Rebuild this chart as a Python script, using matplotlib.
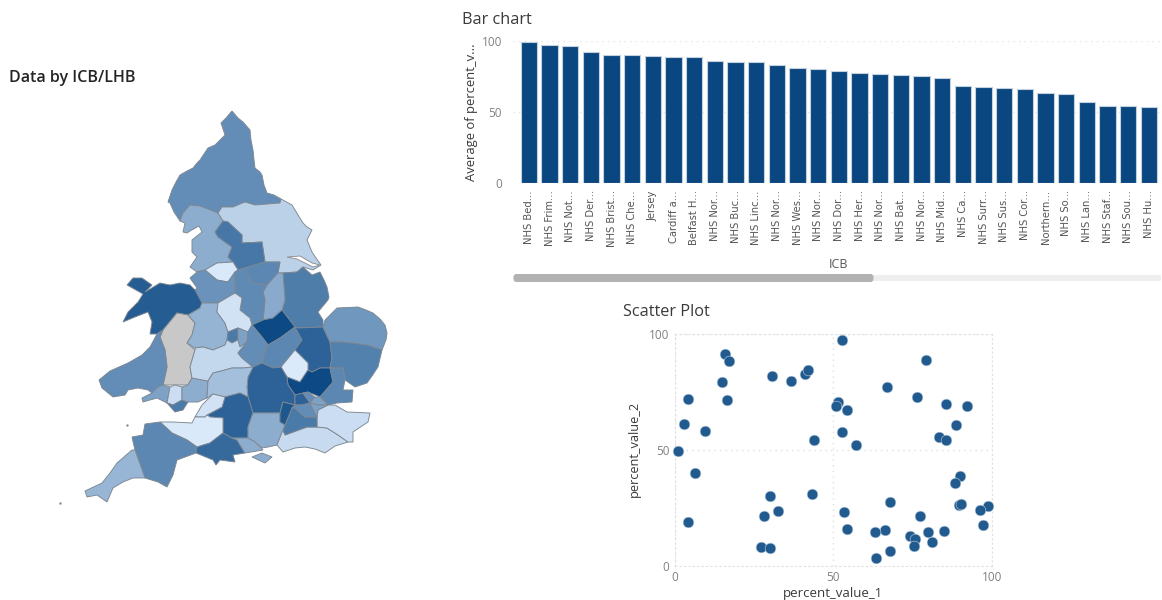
import matplotlib
matplotlib.use("Agg")
import matplotlib.pyplot as plt
from matplotlib.colors import LinearSegmentedColormap
from matplotlib.patches import Polygon, FancyBboxPatch

W = 1162
H = 600

# bar chart
icb_labels = ["NHS Bed...", "NHS Frim...", "NHS Not...", "NHS Der...", "NHS Brist...", "NHS Che...",
              "Jersey", "Cardiff a...", "Belfast H...", "NHS Nor...", "NHS Buc...", "NHS Linc...",
              "NHS Nor...", "NHS Wes...", "NHS Nor...", "NHS Dor...", "NHS Her...", "NHS Nor...",
              "NHS Bat...", "NHS Nor...", "NHS Mid...", "NHS Ca...", "NHS Surr...", "NHS Sus...",
              "NHS Cor...", "Northern...", "NHS So...", "NHS Lan...", "NHS Staf...", "NHS Sou...",
              "NHS Hu..."]
icb_values = [99.5, 97.7, 96.7, 92.5, 90.6, 90.1, 89.9, 89.2, 88.7, 85.9, 85.7, 85.4, 83.6, 81.5,
              80.3, 79.4, 77.5, 76.8, 76.1, 75.4, 74.4, 68.3, 68.1, 66.9, 66.2, 63.6, 63.1, 57.5,
              54.7, 54.7, 53.5]

# scatter
value_1 = [15.9, 17.2, 14.9, 16.3, 4.1, 2.9, 9.4, 1.1, 6.2, 4.2, 30.7, 36.6, 40.9, 41.9, 44.0,
           30.1, 32.4, 28.0, 27.1, 29.9, 43.2, 52.6, 79.2, 66.9, 76.3, 85.5, 92.3, 51.5, 50.7,
           54.3, 88.8, 52.6, 83.3, 85.7, 57.3, 89.9, 88.5, 68.0, 89.7, 90.3, 98.9, 96.4, 53.4,
           77.3, 97.2, 54.3, 66.2, 63.2, 80.0, 85.0, 74.2, 75.9, 81.3, 75.4, 67.9, 63.5]
value_2 = [91.4, 88.2, 79.4, 71.4, 71.9, 61.0, 58.1, 49.4, 39.9, 19.0, 81.7, 79.6, 82.9, 84.3, 54.2,
           30.2, 23.6, 21.4, 8.1, 7.5, 30.9, 97.3, 88.6, 77.0, 72.9, 69.7, 68.8, 70.8, 68.8,
           67.2, 60.9, 57.6, 55.4, 54.3, 52.2, 38.7, 35.7, 27.6, 26.1, 26.6, 25.9, 23.9, 23.3,
           21.4, 17.7, 15.8, 15.3, 14.5, 14.7, 14.8, 12.8, 11.4, 10.2, 8.4, 6.3, 3.3]

# map areas: shade value (None = no data) and traced outline
area_values = {
    "north_east": 58, "lancashire": 38, "yorkshire": 16, "west_yorks": 72, "manchester": 1,
    "south_yorks": 62, "lincolnshire": 68, "notts": 40, "derby": 60, "cheshire": 55,
    "north_wales": 88, "powys": None, "hywel_dda": 58, "swansea": 45, "cardiff_light": 8,
    "cardiff_dark": 70, "gwent": 38, "shropshire": 34, "staffs": 5, "black_country": 70,
    "birmingham": 45, "worcester": 12, "leicester": 100, "northants": 62, "coventry": 58,
    "cambs": 85, "norfolk": 52, "suffolk": 66, "bedford": 0, "herts": 100, "essex": 62,
    "oxford": 85, "glos": 27, "wilts": 85, "bristol": 5, "somerset": 1, "devon": 62,
    "cornwall": 33, "dorset": 80, "hampshire": 38, "hants_sw": 38, "wight": 38, "sussex": 10,
    "kent": 8, "surrey": 70, "frimley": 92, "london_nw": 85, "london_n": 58, "london_ne": 45,
    "london_sw": 58, "london_se": 45,
}
area_outlines = {
    "north_east": [(168, 202), (170, 196), (172, 190), (176, 182), (180, 175), (187, 171), (193, 168), (197, 163), (200, 160), (208, 148), (215, 145), (220, 140), (225, 135), (221, 123), (226, 118), (232, 111), (238, 118), (243, 122), (250, 130), (251, 140), (253, 150), (254, 160), (255, 168), (260, 172), (262, 175), (264, 185), (267, 193), (274, 195), (281, 199), (280, 203), (255, 205), (245, 202), (233, 207), (222, 207), (218, 213), (200, 206), (190, 205), (183, 213), (180, 221), (174, 212), (170, 203)],
    "lancashire": [(180, 221), (183, 213), (190, 205), (200, 206), (218, 213), (223, 221), (215, 232), (218, 237), (232, 247), (228, 257), (233, 262), (217, 263), (205, 270), (197, 272), (190, 267), (197, 257), (192, 252), (192, 240), (202, 232), (199, 226), (190, 231), (187, 233), (183, 232), (185, 223)],
    "yorkshire": [(218, 213), (222, 207), (233, 207), (245, 202), (255, 205), (280, 203), (281, 199), (292, 205), (298, 215), (303, 223), (307, 227), (312, 230), (307, 240), (312, 252), (316, 258), (321, 265), (313, 270), (303, 267), (297, 272), (283, 273), (278, 273), (280, 262), (265, 262), (262, 242), (242, 243), (242, 235), (228, 222), (223, 221)],
    "west_yorks": [(223, 221), (228, 222), (242, 235), (242, 243), (262, 242), (265, 262), (245, 268), (238, 270), (233, 262), (228, 257), (232, 247), (218, 237), (215, 232)],
    "manchester": [(205, 270), (217, 263), (233, 262), (238, 270), (235, 272), (228, 282), (217, 280)],
    "south_yorks": [(245, 268), (265, 262), (280, 262), (278, 273), (267, 285), (252, 283)],
    "lincolnshire": [(283, 273), (297, 272), (303, 267), (312, 275), (320, 272), (324, 280), (327, 287), (329, 297), (328, 300), (318, 312), (323, 320), (323, 327), (298, 328), (295, 327), (282, 310), (285, 300)],
    "notts": [(278, 273), (283, 273), (285, 300), (282, 310), (273, 318), (263, 320), (265, 300), (263, 292), (267, 285)],
    "derby": [(235, 272), (238, 270), (245, 268), (252, 283), (267, 285), (263, 292), (265, 300), (263, 320), (252, 325), (250, 318), (240, 310), (242, 298), (235, 293), (235, 287)],
    "cheshire": [(197, 272), (205, 270), (217, 280), (228, 282), (235, 272), (235, 287), (235, 293), (218, 303), (202, 303), (195, 290), (197, 288), (190, 278)],
    "north_wales": [(127, 285), (133, 278), (142, 278), (152, 285), (145, 292), (160, 283), (170, 285), (180, 283), (190, 285), (195, 290), (202, 303), (200, 308), (188, 315), (177, 313), (163, 330), (157, 334), (150, 334), (152, 322), (148, 312), (135, 317), (123, 322), (128, 312), (138, 302), (143, 294)],
    "powys": [(163, 330), (177, 313), (188, 315), (195, 323), (192, 335), (187, 343), (195, 350), (190, 367), (192, 378), (188, 385), (163, 385), (167, 367), (165, 350), (160, 337)],
    "hywel_dda": [(157, 334), (163, 330), (160, 337), (165, 350), (167, 367), (163, 385), (158, 387), (152, 393), (148, 390), (138, 388), (128, 390), (125, 395), (113, 397), (102, 388), (99, 380), (110, 371), (128, 363), (142, 355), (150, 347)],
    "swansea": [(142, 398), (152, 393), (158, 387), (163, 385), (170, 387), (167, 403), (157, 398), (143, 402)],
    "cardiff_light": [(170, 387), (175, 385), (182, 387), (182, 400), (173, 405), (167, 403)],
    "cardiff_dark": [(167, 403), (173, 405), (182, 400), (188, 402), (183, 410), (175, 412)],
    "gwent": [(182, 387), (188, 385), (192, 378), (208, 381), (207, 398), (198, 402), (188, 402), (182, 400)],
    "shropshire": [(188, 315), (195, 323), (192, 335), (187, 343), (195, 348), (203, 347), (213, 350), (225, 345), (227, 340), (228, 332), (225, 323), (217, 312), (218, 303), (202, 303), (200, 308)],
    "staffs": [(218, 303), (235, 293), (242, 298), (240, 310), (250, 318), (252, 325), (248, 332), (238, 328), (228, 332), (225, 323), (217, 312)],
    "black_country": [(228, 332), (238, 328), (238, 340), (232, 343), (227, 340)],
    "birmingham": [(238, 328), (248, 332), (247, 342), (240, 347), (238, 340)],
    "worcester": [(195, 348), (203, 347), (213, 350), (225, 345), (227, 340), (232, 343), (238, 340), (240, 347), (247, 342), (238, 353), (242, 358), (253, 367), (243, 368), (232, 368), (225, 370), (213, 373), (208, 381), (192, 378), (190, 367), (195, 350)],
    "leicester": [(252, 325), (263, 320), (273, 318), (282, 310), (295, 327), (280, 338), (268, 345), (262, 337)],
    "northants": [(268, 345), (280, 338), (295, 327), (302, 340), (295, 350), (281, 367), (273, 368), (262, 363), (265, 350)],
    "coventry": [(248, 332), (252, 325), (262, 337), (268, 345), (265, 350), (262, 363), (253, 367), (242, 358), (238, 353), (247, 342)],
    "cambs": [(295, 327), (298, 328), (323, 327), (330, 342), (332, 358), (330, 368), (320, 368), (312, 372), (308, 370), (308, 363), (295, 350), (302, 340)],
    "norfolk": [(323, 327), (325, 320), (337, 308), (358, 307), (366, 310), (373, 313), (380, 319), (385, 325), (387, 333), (386, 340), (382, 350), (367, 345), (343, 342), (330, 342)],
    "suffolk": [(330, 342), (343, 342), (367, 345), (382, 350), (378, 367), (372, 376), (367, 383), (355, 387), (345, 380), (343, 368), (330, 368), (332, 358)],
    "bedford": [(281, 367), (295, 350), (308, 363), (308, 370), (300, 382), (287, 377)],
    "herts": [(287, 377), (300, 382), (308, 370), (312, 372), (320, 368), (330, 368), (333, 382), (320, 397), (308, 392), (295, 395), (288, 385)],
    "essex": [(330, 368), (343, 368), (345, 380), (343, 390), (353, 390), (352, 402), (337, 403), (328, 405), (320, 397), (333, 382)],
    "oxford": [(248, 377), (253, 367), (262, 363), (273, 368), (281, 367), (287, 377), (288, 385), (295, 395), (295, 405), (283, 402), (280, 413), (253, 413), (248, 397), (247, 387)],
    "glos": [(208, 381), (213, 373), (225, 370), (232, 368), (243, 368), (253, 367), (248, 377), (247, 387), (248, 397), (240, 393), (225, 397), (213, 394), (207, 398)],
    "wilts": [(207, 415), (222, 407), (225, 397), (240, 393), (248, 397), (253, 413), (248, 427), (248, 438), (232, 438), (223, 433), (223, 418), (210, 417)],
    "bristol": [(195, 417), (202, 405), (213, 394), (225, 397), (222, 407), (207, 415), (205, 417)],
    "somerset": [(160, 422), (173, 422), (192, 423), (195, 417), (205, 417), (207, 415), (210, 417), (223, 418), (223, 433), (210, 443), (197, 447), (187, 440), (172, 433)],
    "devon": [(145, 424), (160, 422), (172, 433), (187, 440), (197, 447), (196, 453), (177, 460), (173, 475), (167, 487), (158, 482), (145, 478), (135, 450), (132, 437), (143, 435)],
    "cornwall": [(132, 450), (135, 450), (145, 478), (133, 478), (123, 482), (113, 488), (107, 502), (97, 495), (87, 497), (85, 491), (102, 483), (110, 473), (117, 463)],
    "dorset": [(197, 447), (210, 443), (223, 433), (232, 438), (237, 440), (245, 453), (233, 455), (235, 462), (220, 460), (216, 465), (213, 460), (196, 453)],
    "hampshire": [(248, 427), (253, 413), (280, 413), (280, 422), (285, 425), (283, 430), (277, 445), (268, 447), (262, 448), (255, 442), (248, 438)],
    "hants_sw": [(237, 440), (232, 438), (248, 438), (255, 442), (263, 450), (245, 453)],
    "wight": [(252, 457), (262, 453), (272, 457), (265, 463)],
    "sussex": [(277, 445), (283, 430), (285, 435), (307, 427), (317, 427), (327, 428), (338, 435), (348, 442), (335, 446), (325, 453), (315, 449), (305, 447), (295, 448), (283, 452)],
    "kent": [(317, 427), (317, 417), (318, 410), (328, 405), (335, 405), (347, 412), (370, 413), (368, 422), (353, 432), (353, 442), (348, 442), (338, 435), (327, 428)],
    "surrey": [(285, 435), (283, 430), (285, 425), (292, 408), (295, 408), (305, 417), (317, 417), (317, 427), (307, 427)],
    "frimley": [(283, 402), (295, 405), (292, 408), (285, 425), (280, 422), (280, 413)],
    "london_nw": [(295, 395), (303, 393), (310, 403), (302, 405), (295, 405)],
    "london_n": [(303, 393), (308, 392), (315, 397), (310, 403)],
    "london_ne": [(315, 397), (320, 397), (328, 405), (317, 405), (310, 403)],
    "london_sw": [(295, 405), (302, 405), (310, 403), (315, 413), (317, 417), (305, 417), (295, 408), (292, 408)],
    "london_se": [(310, 403), (317, 405), (328, 405), (318, 410), (317, 417), (315, 413)],
}
humber_outline = [(287, 257), (300, 256), (312, 263), (320, 265), (313, 267), (305, 263), (297, 259)]
speck_x = [60, 127]
speck_y = [503, 425]

plt.rcParams['font.family'] = ['Open Sans', 'DejaVu Sans']


def pixel_axes(fig, left, top, right, bottom):
    return fig.add_axes([left / W, 1 - bottom / H, (right - left) / W, (bottom - top) / H])


fig = plt.figure(figsize=(W / 100, H / 100), dpi=100)

# map, drawn on an axes the size of the figure
ax_map = pixel_axes(fig, 0, 0, W, H)
ax_map.set_xlim(0, W)
ax_map.set_ylim(H, 0)
ax_map.axis('off')
blues = LinearSegmentedColormap.from_list('map_blues', ['#dbeafb', '#0d4a85'])
for name, outline in area_outlines.items():
    value = area_values[name]
    color = '#c8c8c8' if value is None else blues(value / 100)
    ax_map.add_patch(Polygon(outline, closed=True, facecolor=color, edgecolor='#7d8791', linewidth=0.65))
ax_map.add_patch(Polygon(humber_outline, closed=True, facecolor='white', edgecolor='#8a8a8a', linewidth=0.6))
ax_map.scatter(speck_x, speck_y, s=3, color='#8a8a8a', linewidth=0)

# scrollbar under the bar chart
ax_map.add_patch(FancyBboxPatch((515, 275), 646, 6, boxstyle='round,pad=0,rounding_size=1',
                                facecolor='#eeeeee', edgecolor='none'))
ax_map.add_patch(FancyBboxPatch((515, 275.5), 357, 5, boxstyle='round,pad=1.5,rounding_size=3',
                                facecolor='#b2b2b2', edgecolor='none'))

fig.text(9 / W, 1 - 77.5 / H, 'Data by ICB/LHB', fontsize=11.5, fontweight='semibold', color='#252423', va='center')
fig.text(462 / W, 1 - 20.5 / H, 'Bar chart', fontsize=11.7, color='#3a3a3a', va='center')
fig.text(623 / W, 1 - 312.5 / H, 'Scatter Plot', fontsize=11.7, color='#3a3a3a', va='center')

# bar chart
ax_bar = pixel_axes(fig, 513, 41.3, W, 183.3)
ax_bar.patch.set_alpha(0)
positions = list(range(len(icb_values)))
ax_bar.bar(positions, icb_values, width=0.79, color='#0a4780', edgecolor='#c3d0de', linewidth=0.8, zorder=3)
ax_bar.set_xlim(-0.77, 30.63)
ax_bar.set_ylim(0, 100)
ax_bar.set_yticks([0, 50, 100])
ax_bar.set_xticks(positions)
ax_bar.set_xticklabels(icb_labels, rotation=90, fontsize=7.2, color='#555555',
                       family=['Liberation Sans Narrow', 'DejaVu Sans'])
ax_bar.tick_params(axis='x', length=0, pad=5)
ax_bar.tick_params(axis='y', length=0, pad=8, labelsize=8.5, labelcolor='#808080')
ax_bar.grid(axis='y', linestyle=(0, (1, 3)), color='#e2e2e2', linewidth=1)
ax_bar.set_axisbelow(True)
for side in ax_bar.spines.values():
    side.set_visible(False)
fig.text(471 / W, 1 - 112 / H, 'Average of percent_v...', rotation=90, fontsize=9.4, color='#3a3a3a',
         ha='center', va='center')
fig.text(838 / W, 1 - 265 / H, 'ICB', fontsize=9, color='#555555', ha='center', va='center')

# scatter plot
ax_sc = pixel_axes(fig, 675, 334, 991.7, 565.7)
ax_sc.patch.set_alpha(0)
ax_sc.scatter(value_1, value_2, s=60, color='#215a8f', edgecolor='#c5d3e0', linewidth=0.4, zorder=3, clip_on=False)
ax_sc.set_xlim(0, 100)
ax_sc.set_ylim(0, 100)
ax_sc.set_xticks([0, 50, 100])
ax_sc.set_yticks([0, 50, 100])
ax_sc.tick_params(length=0, labelsize=8.5, labelcolor='#808080', pad=4)
ax_sc.grid(True, linestyle=(0, (1, 3)), color='#e0e0e0', linewidth=1)
ax_sc.set_axisbelow(True)
for side in ax_sc.spines.values():
    side.set_linestyle((0, (1, 3)))
    side.set_color('#e0e0e0')
fig.text(634 / W, 1 - 449 / H, 'percent_value_2', rotation=90, fontsize=9.2, color='#3a3a3a',
         ha='center', va='center')
fig.text(833 / W, 1 - 594 / H, 'percent_value_1', fontsize=9.5, color='#3a3a3a', ha='center', va='center')

fig.savefig('out.png', dpi=100)
